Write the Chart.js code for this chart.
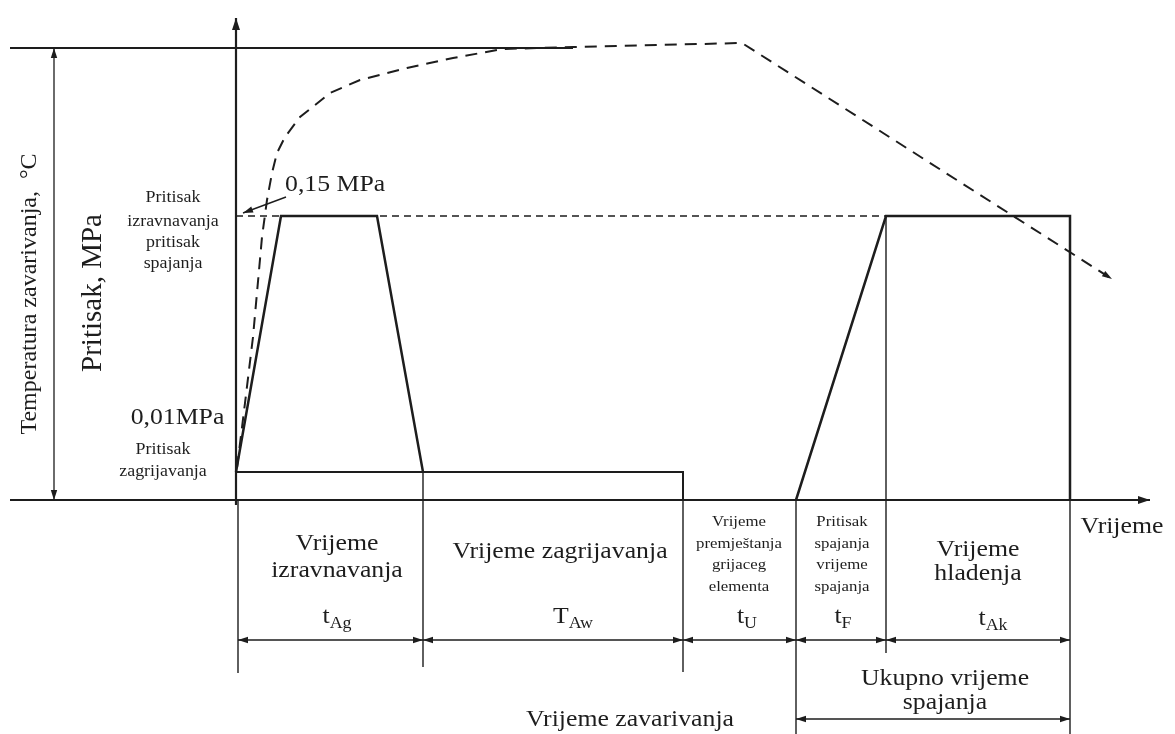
<!DOCTYPE html>
<html lang="bs">
<head>
<meta charset="UTF-8">
<title>Zavarivanje grijacim elementom</title>
<script src="https://cdn.jsdelivr.net/npm/chart.js"></script>
<style>
  html, body { margin: 0; padding: 0; background: #fff; }
  .wrap { width: 1175px; height: 734px; position: relative; }
</style>
</head>
<body>
<div class="wrap"><canvas id="c"></canvas></div>
<script>
// schematic units: time grows to the right, pressure / temperature grows upward
const phaseBounds = [0.2, 18.7, 44.7, 56.0, 65.0, 83.4];   // tAg | TAw | tU | tF | tAk
const boundTop    = [0, 2.8, 2.8, 0, 28.4, 28.4];
const boundBottom = [-17.3, -16.7, -17.2, -23.4, -15.3, -23.4];

// pressure profile
const alignT = [0, 4.5, 14.1, 18.7];
const alignP = [2.8, 28.4, 28.4, 2.8];
const heatT  = [0, 44.7, 44.7];
const heatP  = [2.8, 2.8, 0];
const joinT  = [56.0, 65.0, 83.4, 83.4];
const joinP  = [0, 28.4, 28.4, 0];
const highLevel = 28.4;

// welding temperature (dashed)
const tempT = [0.1, 0.9, 1.7, 2.6, 3.1, 3.6, 4.1, 4.9, 6.4, 9.4, 12.4, 17.1, 21.7, 26.7, 33.7, 50.6, 87.6];
const tempC = [3.2, 9.7, 16.3, 26.3, 30.0, 32.7, 34.7, 36.3, 38.3, 40.7, 42.0, 43.2, 44.2, 45.1, 45.3, 45.7, 22.1];
const tempMax = 45.2;

const X_MIN = -23.6, X_MAX = 93.9, Y_MIN = -23.4, Y_MAX = 50.0;
const ink = '#1d1d1d';
const serif = '"Liberation Serif", "Times New Roman", serif';
const stretch = 1.12;   // the scanned lettering is a little wider than Times

function line(xs, ys, o) {
  o = o || {};
  return {
    data: xs.map((x, i) => ({ x: x, y: ys[i] })),
    showLine: true, pointRadius: 0, tension: 0,
    borderColor: ink, borderWidth: o.w || 2,
    borderDash: o.dash || [], borderCapStyle: 'butt',
    arrows: o.arrows || null
  };
}

const datasets = [
  line([0, 0], [-0.5, 48.2], { w: 2.2, arrows: 'end' }),           // pressure axis
  line([-22.6, 91.4], [0, 0], { w: 2.2, arrows: 'end' }),          // time axis
  line([-22.6, 33.7], [tempMax, tempMax], { w: 2 }),
  line([-18.2, -18.2], [0, tempMax], { w: 1.3, arrows: 'both' }),
  line(alignT, alignP, { w: 2.5 }),
  line(heatT, heatP, { w: 2 }),
  line(joinT, joinP, { w: 2.5 }),
  line([0, 65.0], [highLevel, highLevel], { w: 1.4, dash: [7, 5] }),
  line(tempT, tempC, { w: 2, dash: [12, 8], arrows: 'end' }),
  line([5.0, 0.7], [30.3, 28.7], { w: 1.4, arrows: 'end' })
];
phaseBounds.forEach((t, i) => datasets.push(line([t, t], [boundTop[i], boundBottom[i]], { w: 1.4 })));
for (let i = 0; i < phaseBounds.length - 1; i++) {
  datasets.push(line([phaseBounds[i], phaseBounds[i + 1]], [-14.0, -14.0], { w: 1.4, arrows: 'both' }));
}
datasets.push(line([phaseBounds[3], phaseBounds[5]], [-21.9, -21.9], { w: 1.4, arrows: 'both' }));

// text placed in chart units
const notes = [
  { t: 'Pritisak', x: -6.3, y: 30.2, s: 16 },
  { t: 'izravnavanja', x: -6.3, y: 27.8, s: 16 },
  { t: 'pritisak', x: -6.3, y: 25.7, s: 16 },
  { t: 'spajanja', x: -6.3, y: 23.6, s: 16 },
  { t: '0,15 MPa', x: 4.9, y: 31.5, s: 23, a: 'left' },
  { t: '0,01MPa', x: -5.85, y: 8.2, s: 23 },
  { t: 'Pritisak', x: -7.3, y: 5.0, s: 16 },
  { t: 'zagrijavanja', x: -7.3, y: 2.8, s: 16 },
  { t: 'Pritisak, MPa', x: -14.3, y: 20.7, s: 29, rot: true },
  { t: 'Temperatura zavarivanja,  °C', x: -20.6, y: 20.6, s: 24, rot: true },
  { t: 'Vrijeme', x: 10.1, y: -4.4, s: 23 },
  { t: 'izravnavanja', x: 10.1, y: -7.1, s: 23 },
  { t: 't', sub: 'Ag', x: 10.1, y: -11.7, s: 23 },
  { t: 'Vrijeme zagrijavanja', x: 32.4, y: -5.2, s: 23 },
  { t: 'T', sub: 'Aw', x: 33.7, y: -11.7, s: 23 },
  { t: 'Vrijeme', x: 50.3, y: -2.2, s: 15 },
  { t: 'premještanja', x: 50.3, y: -4.4, s: 15 },
  { t: 'grijaceg', x: 50.3, y: -6.5, s: 15 },
  { t: 'elementa', x: 50.3, y: -8.7, s: 15 },
  { t: 't', sub: 'U', x: 51.1, y: -11.7, s: 23 },
  { t: 'Pritisak', x: 60.6, y: -2.2, s: 15 },
  { t: 'spajanja', x: 60.6, y: -4.4, s: 15 },
  { t: 'vrijeme', x: 60.6, y: -6.5, s: 15 },
  { t: 'spajanja', x: 60.6, y: -8.7, s: 15 },
  { t: 't', sub: 'F', x: 60.7, y: -11.7, s: 23 },
  { t: 'Vrijeme', x: 74.2, y: -5.0, s: 23 },
  { t: 'hladenja', x: 74.2, y: -7.4, s: 23 },
  { t: 't', sub: 'Ak', x: 75.7, y: -11.9, s: 23 },
  { t: 'Vrijeme', x: 88.6, y: -2.7, s: 23 },
  { t: 'Ukupno vrijeme', x: 70.9, y: -17.9, s: 23 },
  { t: 'spajanja', x: 70.9, y: -20.3, s: 23 },
  { t: 'Vrijeme zavarivanja', x: 39.4, y: -22.0, s: 23 }
];

function head(ctx, x0, y0, x1, y1, len, half) {
  const a = Math.atan2(y1 - y0, x1 - x0);
  ctx.beginPath();
  ctx.moveTo(x1, y1);
  ctx.lineTo(x1 - len * Math.cos(a) + half * Math.sin(a), y1 - len * Math.sin(a) - half * Math.cos(a));
  ctx.lineTo(x1 - len * Math.cos(a) - half * Math.sin(a), y1 - len * Math.sin(a) + half * Math.cos(a));
  ctx.closePath();
  ctx.fill();
}

const arrowPlugin = {
  id: 'arrows',
  afterDatasetsDraw(chart) {
    const ctx = chart.ctx;
    ctx.save();
    ctx.fillStyle = ink;
    chart.data.datasets.forEach((ds, i) => {
      if (!ds.arrows) return;
      const p = chart.getDatasetMeta(i).data;
      const n = p.length;
      const big = i < 2;
      const len = big ? 12 : 10, half = big ? 4 : 3.2;
      if (ds.arrows === 'end' || ds.arrows === 'both') head(ctx, p[n - 2].x, p[n - 2].y, p[n - 1].x, p[n - 1].y, len, half);
      if (ds.arrows === 'start' || ds.arrows === 'both') head(ctx, p[1].x, p[1].y, p[0].x, p[0].y, len, half);
    });
    ctx.restore();
  }
};

const textPlugin = {
  id: 'notes',
  afterDraw(chart) {
    const ctx = chart.ctx, sx = chart.scales.x, sy = chart.scales.y;
    ctx.save();
    ctx.fillStyle = ink;
    ctx.textBaseline = 'middle';
    notes.forEach(n => {
      const px = sx.getPixelForValue(n.x), py = sy.getPixelForValue(n.y);
      ctx.save();
      ctx.translate(px, py);
      ctx.font = n.s + 'px ' + serif;
      if (n.rot) {
        ctx.rotate(-Math.PI / 2);
        ctx.textAlign = 'center';
        ctx.fillText(n.t, 0, 0);
      } else if (n.sub) {
        ctx.scale(stretch, 1);
        const ss = Math.round(n.s * 0.7);
        const w1 = ctx.measureText(n.t).width;
        ctx.font = ss + 'px ' + serif;
        const w2 = ctx.measureText(n.sub).width;
        const left = -(w1 + w2) / 2;
        ctx.textAlign = 'left';
        ctx.font = n.s + 'px ' + serif;
        ctx.fillText(n.t, left, 0);
        ctx.font = ss + 'px ' + serif;
        ctx.fillText(n.sub, left + w1, 7);
      } else {
        ctx.scale(stretch, 1);
        ctx.textAlign = n.a || 'center';
        ctx.fillText(n.t, 0, 0);
      }
      ctx.restore();
    });
    ctx.restore();
  }
};

new Chart(document.getElementById('c'), {
  type: 'scatter',
  data: { datasets: datasets },
  options: {
    responsive: true,
    maintainAspectRatio: false,
    animation: false,
    layout: { padding: 0 },
    plugins: { legend: { display: false }, tooltip: { enabled: false } },
    scales: {
      x: { type: 'linear', min: X_MIN, max: X_MAX, display: false },
      y: { type: 'linear', min: Y_MIN, max: Y_MAX, display: false }
    }
  },
  plugins: [arrowPlugin, textPlugin]
});
</script>
</body>
</html>
